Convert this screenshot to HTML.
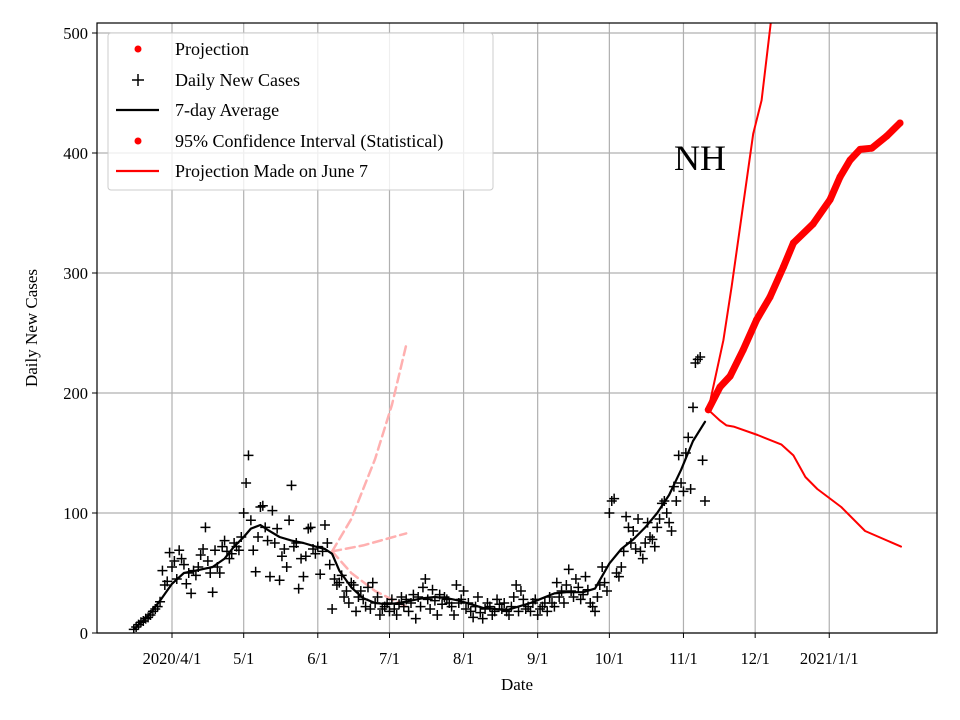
<!DOCTYPE html>
<html><head><meta charset="utf-8"><style>
html,body{margin:0;padding:0;background:#fff;}
svg{display:block;font-family:"Liberation Serif",serif;}
</style></head><body>
<svg id="chart" width="960" height="720" viewBox="0 0 960 720" xmlns="http://www.w3.org/2000/svg">
<rect width="960" height="720" fill="#fff"/>
<g id="grid"></g>
<g id="marks"></g>
<rect x="97" y="23" width="840" height="610" fill="none" stroke="#000" stroke-width="1.2"/>
<g id="axes"></g>
<text x="700" y="170" font-size="36" text-anchor="middle">NH</text>
<text x="517" y="690" font-size="17" text-anchor="middle">Date</text>
<text transform="translate(37,328) rotate(-90)" font-size="17" text-anchor="middle">Daily New Cases</text>
<g>
<rect x="108" y="33" width="385" height="157" rx="3" fill="#fff" fill-opacity="0.8" stroke="#ccc"/>
<g><circle cx="138" cy="49" r="3.5" fill="red"/><text x="175" y="55" font-size="18">Projection</text></g>
<g><path d="M132 80h12M138 74v12" stroke="#000" stroke-width="1.5"/><text x="175" y="86" font-size="18">Daily New Cases</text></g>
<g><path d="M116 110h43" stroke="#000" stroke-width="2.2"/><text x="175" y="116" font-size="18">7-day Average</text></g>
<g><circle cx="138" cy="141" r="3.5" fill="red"/><text x="175" y="147" font-size="18">95% Confidence Interval (Statistical)</text></g>
<g><path d="M116 171h43" stroke="red" stroke-width="2.2"/><text x="175" y="177" font-size="18">Projection Made on June 7</text></g>
</g>
</svg>
<script>
// Data (days since 2020-04-01)
const startDay = -16;
const dailyCases = [3,5,7,9,10,12,13,15,18,20,
22,26,52,40,43,67,
55,60,45,69,62,57,41,50,33,52,
48,55,65,70,88,60,50,34,69,55,
50,72,77,68,62,66,75,72,69,80,
100,125,148,94,69,51,80,105,106,88,
77,47,102,75,87,44,64,70,55,94,
123,72,75,37,62,47,64,87,88,70,
66,72,49,68,90,75,57,20,
45,40,42,48,30,35,25,42,40,18,
30,35,28,22,38,20,42,25,30,15,
20,22,25,18,28,20,15,24,30,22,
28,18,25,32,12,30,22,38,45,28,
20,36,27,15,32,24,30,28,25,22,
15,40,25,28,35,20,25,18,13,22,
30,17,12,20,25,22,15,18,28,24,
20,25,18,15,22,30,40,18,35,28,
20,22,18,25,28,15,20,22,25,18,
30,25,22,
42,30,35,25,40,53,35,30,45,38,
28,32,47,36,25,22,18,30,40,55,
42,35,100,110,112,50,47,55,68,97,
88,75,85,70,95,68,62,75,92,80,
78,72,88,95,108,110,100,92,85,122,
110,148,125,118,150,163,120,188,225,228,
230,144,110];
const avgDays = [-16,-10,-5,0,5,10,17,22,26,30,33,37,40,45,50,55,60,64,67,70,75,80,85,90,95,100,105,110,115,120,125,130,135,140,145,150,155,160,165,170,172,177,183,188,193,198,203,208,213,218,223];
const avgVals = [3,14,27,41,50,52,55,62,72,80,87,90,86,80,77,75,72,70,66,52,38,29,25,24,25,27,29,30,29,27,24,21,20,19,22,25,29,33,34,34,34,37,58,70,78,88,100,115,136,160,176];
const projDays = [224.4,229.3,233.5,239,244.6,250.2,255.8,260,268.3,275.3,279.5,283.7,287.9,292.8,299,304.6];
const projVals = [186,205,214,236,261,280,305,325,341,361,380,394,403,404,414,425];
const upperDays = [224.4,230.7,234.2,243.2,246.7,250.5];
const upperVals = [186,244,289,416,444,508];
const lowerDays = [224.4,229.3,232,235,245,255,260,265,270,280,290,305];
const lowerVals = [186,177,173,172,165,157,148,130,120,105,85,72];
const junUpDays = [67,75,85,92,98], junUpVals = [68,95,145,190,240];
const junMidDays = [67,80,98], junMidVals = [68,73,83];
const junLoDays = [67,75,85,95,98], junLoVals = [68,50,35,25,22];
const xTickDays = [0,30,61,91,122,153,183,214,244,275];
const xTickLabels = ["2020/4/1","5/1","6/1","7/1","8/1","9/1","10/1","11/1","12/1","2021/1/1"];
const yTicks = [0,100,200,300,400,500];

const X = d => 172 + d*2.39;
const Y = v => 633 - v*1.2;
const NS = "http://www.w3.org/2000/svg";
function mk(tag, attrs, parent){const e=document.createElementNS(NS,tag);for(const k in attrs)e.setAttribute(k,attrs[k]);parent.appendChild(e);return e;}
const grid=document.getElementById('grid'), marks=document.getElementById('marks'), axes=document.getElementById('axes');

xTickDays.forEach((d,i)=>{
  const g=mk('line',{x1:X(d),x2:X(d),y1:23,y2:633,stroke:'#b0b0b0','stroke-width':1.2},grid);
  
  
  const t=mk('line',{x1:X(d),x2:X(d),y1:633,y2:638,stroke:'#000'},axes);
  
  
  const l=mk('text',{x:X(d),y:664,'font-size':16.5,'text-anchor':'middle'},axes);
  l.textContent=xTickLabels[i];
  
  
});
yTicks.forEach(v=>{
  const g=mk('line',{x1:97,x2:937,y1:Y(v),y2:Y(v),stroke:'#b0b0b0','stroke-width':1.2},grid);
  
  
  const t=mk('line',{x1:92,x2:97,y1:Y(v),y2:Y(v),stroke:'#000'},axes);
  
  
  const l=mk('text',{x:88,y:Y(v)+6,'font-size':16.5,'text-anchor':'end'},axes);
  l.textContent=v;
  
  
});

const clip=mk('clipPath',{id:'pc'},marks); mk('rect',{x:97,y:23,width:840,height:610},clip);
const body=mk('g',{'clip-path':'url(#pc)'},marks);
function line(ds,vs,attrs,name){
  const p=mk('path',Object.assign({d:ds.map((d,i)=>(i?'L':'M')+X(d).toFixed(1)+' '+Y(vs[i]).toFixed(1)).join(''),fill:'none','stroke-linejoin':'round','stroke-linecap':'round'},attrs),body);
  
  
}
line(junUpDays,junUpVals,{stroke:'#ffb0b0','stroke-width':2.5,'stroke-dasharray':'9 5'},'june7-projection-upper');
line(junMidDays,junMidVals,{stroke:'#ffb0b0','stroke-width':2.5,'stroke-dasharray':'9 5'},'june7-projection-middle');
line(junLoDays,junLoVals,{stroke:'#ffb0b0','stroke-width':2.5,'stroke-dasharray':'9 5'},'june7-projection-lower');
dailyCases.forEach((v,i)=>{
  const x=X(startDay+i), y=Y(v);
  const p=mk('path',{d:`M${x-5} ${y}h10M${x} ${y-5}v10`,stroke:'#000','stroke-width':1.5},body);
  
  
});
line(avgDays,avgVals,{stroke:'#000','stroke-width':2.2},'seven-day-average-line');
line(upperDays,upperVals,{stroke:'red','stroke-width':2},'ci-upper-line');
line(lowerDays,lowerVals,{stroke:'red','stroke-width':2},'ci-lower-line');
line(projDays,projVals,{stroke:'red','stroke-width':7},'projection-line');
projDays.forEach((d,i)=>{
  const c=mk('circle',{cx:X(d),cy:Y(projVals[i]),r:3.5,fill:'red'},body);
  
  
});
</script>
</body></html>
